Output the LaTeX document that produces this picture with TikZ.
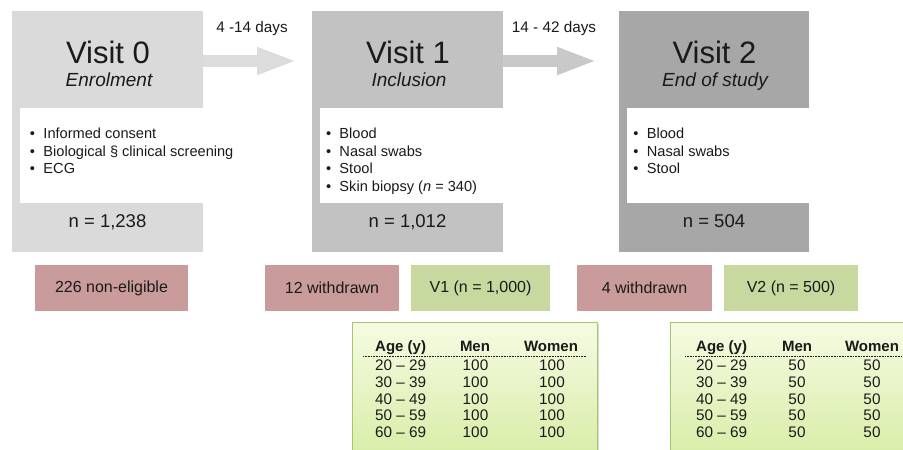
\documentclass[tikz,border=0pt]{standalone}
\usepackage{fontspec}
\setmainfont{Liberation Sans}
\usetikzlibrary{arrows.meta,shadows}
\definecolor{gA}{HTML}{DADADA}
\definecolor{gB}{HTML}{C2C2C2}
\definecolor{gC}{HTML}{A7A7A7}
\definecolor{arrA}{HTML}{DCDCDC}
\definecolor{arrB}{HTML}{C9C9C9}
\definecolor{redbox}{HTML}{C99B9A}
\definecolor{greenbox}{HTML}{C8D9A0}
\definecolor{tabtop}{HTML}{F5FBE2}
\definecolor{tabbot}{HTML}{D5EBA0}
\definecolor{tabline}{HTML}{A5C66A}
\definecolor{ink}{HTML}{1A1A1A}
\newcommand\myfs[1]{\fontsize{#1}{#1}\selectfont}
\begin{document}
\begin{tikzpicture}[x=1pt,y=-1pt,
  visit/.style={draw=none, minimum width=191pt, minimum height=241pt, inner sep=0pt, anchor=north west},
  panel/.style={fill=white, draw=none, minimum width=183pt, minimum height=95pt, inner sep=0pt, anchor=north west},
  title/.style={font=\myfs{31}, anchor=base, inner sep=0pt, text=ink},
  sub/.style={font=\myfs{19}\itshape, anchor=base, inner sep=0pt, text=ink},
  count/.style={font=\myfs{18.5}, anchor=base, inner sep=0pt, text=ink},
  lst/.style={font=\fontsize{14.6}{17.5}\selectfont, align=left, anchor=north west, inner sep=0pt, text=ink},
  days/.style={font=\myfs{15.3}, anchor=base, inner sep=0pt, text=ink},
  outbox/.style={minimum height=46pt, inner sep=0pt, font=\myfs{16}, text=ink},
  fat/.style={line width=12pt, -{Triangle[length=40pt,width=25pt]}},
  tabbox/.style={draw=tabline, line width=1.4pt, top color=tabtop, bottom color=tabbot, anchor=north west, inner sep=0pt, minimum height=150pt, drop shadow={opacity=0.3, shadow xshift=1.5pt, shadow yshift=-1.5pt}},
  th/.style={font=\myfs{15}\bfseries, inner sep=0pt, text=ink},
  td/.style={font=\myfs{15.3}, inner sep=0pt, text=ink},
  rule/.style={line width=0.8pt, dash pattern=on 0.8pt off 0.8pt, ink}
]
\fill[white] (0,0) rectangle (903,450);
\useasboundingbox (0,0) rectangle (903,450);
\clip (0,0) rectangle (903,450);

% visit boxes
\node[visit, fill=gA] (v0) at (12,11) {};
\node[visit, fill=gB] (v1) at (312,11) {};
\node[visit, fill=gC, minimum width=190pt] (v2) at (619,11) {};
\node[panel] (p0) at (20,108) {};
\node[panel] (p1) at (320,108) {};
\node[panel, minimum width=182pt] (p2) at (627,108) {};

% titles
\node[title] (t0) at (108,63.3) {Visit 0};
\node[title] (t1) at (408,63.3) {Visit 1};
\node[title] (t2) at (714.5,63.3) {Visit 2};
\node[sub] (s0) at (109,86) {Enrolment};
\node[sub] (s1) at (409,86) {Inclusion};
\node[sub] (s2) at (715,86) {End of study};
\node[count] (n0) at (107.5,227.7) {n = 1,238};
\node[count] (n1) at (407.5,227.7) {n = 1,012};
\node[count] (n2) at (714,227.7) {n = 504};

% lists
\node[lst] (l0) at (29.8,127.8) {\makebox[13.5pt][l]{\textbullet}Informed consent\\
\makebox[13.5pt][l]{\textbullet}Biological \S{} clinical screening\\
\makebox[13.5pt][l]{\textbullet}ECG};
\node[lst] (l1) at (325.8,127.8) {\makebox[13.5pt][l]{\textbullet}Blood\\
\makebox[13.5pt][l]{\textbullet}Nasal swabs\\
\makebox[13.5pt][l]{\textbullet}Stool\\
\makebox[13.5pt][l]{\textbullet}Skin biopsy (\textit{n} = 340)};
\node[lst] (l2) at (633.2,127.8) {\makebox[13.5pt][l]{\textbullet}Blood\\
\makebox[13.5pt][l]{\textbullet}Nasal swabs\\
\makebox[13.5pt][l]{\textbullet}Stool};

% arrows
\draw[fat, arrA, shorten >=15pt] ([yshift=-50pt]v0.north east) -- ([yshift=-50pt]v1.north west);
\draw[fat, arrB, shorten >=22pt] ([yshift=-50pt]v1.north east) -- ([yshift=-50pt]v2.north west);
\node[days] (d0) at (252,32.7) {4 -14 days};
\node[days] (d1) at (554,32.7) {14 - 42 days};

% outcome boxes
\node[outbox, fill=redbox, minimum width=153pt] (ne) at (111.5,288) {226 non-eligible};
\node[outbox, fill=redbox, minimum width=134pt] (w1) at (332,288) {12 withdrawn};
\node[outbox, fill=greenbox, minimum width=139pt] (g1) at (480.5,288) {V1 (n = 1,000)};
\node[outbox, fill=redbox, minimum width=135pt] (w2) at (644.5,288) {4 withdrawn};
\node[outbox, fill=greenbox, minimum width=134pt] (g2) at (791,288) {V2 (n = 500)};

% tables
\node[tabbox, minimum width=245pt] (tab1) at (352,322) {};
\node[tabbox, minimum width=260pt] (tab2) at (670,322) {};

\node[th, anchor=base west] (h1a) at (375,351.7) {Age (y)};
\node[th, anchor=base] (h1m) at (475,351.7) {Men};
\node[th, anchor=base] (h1w) at (551,351.7) {Women};
\draw[rule] (363,356.7) -- (587,356.7);

\node[th, anchor=base west] (h2a) at (696,351.7) {Age (y)};
\node[th, anchor=base] (h2m) at (797,351.7) {Men};
\node[th, anchor=base] (h2w) at (872,351.7) {Women};
\draw[rule] (685,356.7) -- (903,356.7);

\foreach \i/\ag in {0/20 – 29, 1/30 – 39, 2/40 – 49, 3/50 – 59, 4/60 – 69} {
  \pgfmathsetmacro\yy{370.7+16.65*\i}
  \node[td, anchor=base west] (ra\i) at (375,\yy) {\ag};
  \node[td, anchor=base] (rm\i) at (475.5,\yy) {100};
  \node[td, anchor=base] (rw\i) at (552,\yy) {100};
  \node[td, anchor=base west] (sa\i) at (696,\yy) {\ag};
  \node[td, anchor=base] (sm\i) at (797,\yy) {50};
  \node[td, anchor=base] (sw\i) at (872,\yy) {50};
}
\end{tikzpicture}
\end{document}
